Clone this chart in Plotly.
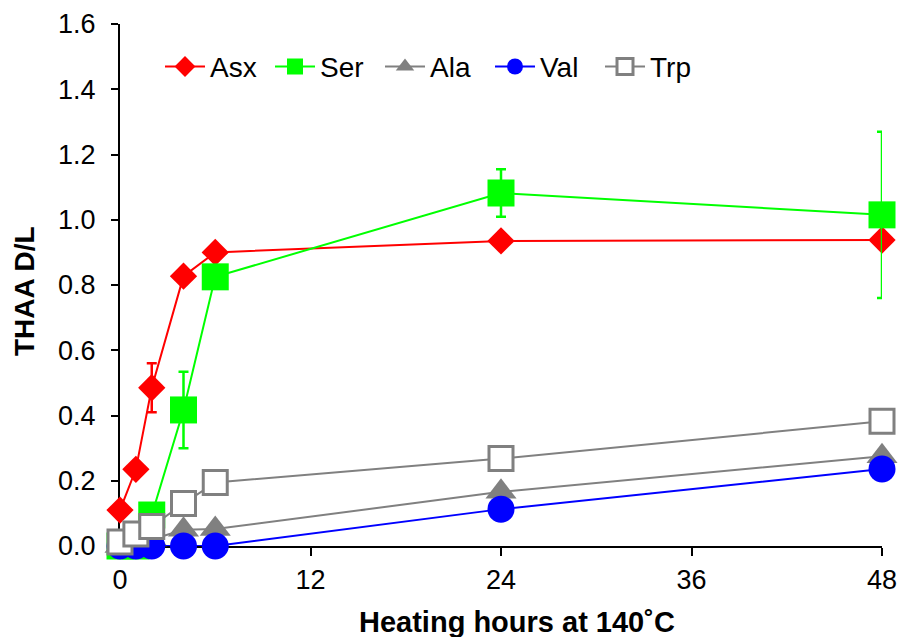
import plotly.graph_objects as go

hours = [0, 1, 2, 4, 6, 24, 48]

asx = [0.11, 0.235, 0.485, 0.827, 0.90, 0.935, 0.938]
asx_err = [0, 0, 0.075, 0, 0, 0, 0]

ser = [0.0, 0.0, 0.095, 0.417, 0.825, 1.082, 1.015]
ser_err = [0, 0, 0, 0.117, 0, 0.073, 0.255]

ala = [0.0, 0.0, 0.02, 0.05, 0.052, 0.166, 0.275]
val = [0.0, 0.0, 0.0, 0.0, 0.0, 0.113, 0.236]
trp = [0.012, 0.037, 0.06, 0.13, 0.195, 0.268, 0.382]

x_ticks = [0, 12, 24, 36, 48]
y_ticks = [0.0, 0.2, 0.4, 0.6, 0.8, 1.0, 1.2, 1.4, 1.6]

x_title = "Heating hours at 140˚C"
y_title = "THAA D/L"

RED = "#FF0000"
GREEN = "#00FF00"
GREY = "#808080"
BLUE = "#0000FF"

fig = go.Figure()

fig.add_trace(go.Scatter(
    x=hours, y=asx, name="Asx", mode="lines+markers",
    line=dict(color=RED, width=2),
    marker=dict(symbol="diamond", size=21, color=RED),
    error_y=dict(type="data", array=asx_err, color=RED, thickness=2.5, width=5, visible=True),
    cliponaxis=False,
))
fig.add_trace(go.Scatter(
    x=hours, y=ser, name="Ser", mode="lines+markers",
    line=dict(color=GREEN, width=2),
    marker=dict(symbol="square", size=27, color=GREEN),
    error_y=dict(type="data", array=ser_err, color=GREEN, thickness=2.5, width=5, visible=True),
    cliponaxis=False,
))
fig.add_trace(go.Scatter(
    x=hours, y=ala, name="Ala", mode="lines+markers",
    line=dict(color=GREY, width=2),
    marker=dict(symbol="triangle-up", size=27, color=GREY),
    cliponaxis=False,
))
fig.add_trace(go.Scatter(
    x=hours, y=val, name="Val", mode="lines+markers",
    line=dict(color=BLUE, width=2),
    marker=dict(symbol="circle", size=27, color=BLUE),
    cliponaxis=False,
))
fig.add_trace(go.Scatter(
    x=hours, y=trp, name="Trp", mode="lines+markers",
    line=dict(color=GREY, width=2),
    marker=dict(symbol="square", size=24, color="white", line=dict(color=GREY, width=3)),
    cliponaxis=False,
))

FONT = "Liberation Sans, Arial, sans-serif"

fig.update_layout(
    width=900, height=637,
    margin=dict(l=120, r=18, t=24, b=91),
    paper_bgcolor="white", plot_bgcolor="white",
    font=dict(family=FONT, size=27, color="black"),
    showlegend=True,
    legend=dict(
        orientation="h", x=0.0525, xanchor="left", y=0.918, yanchor="middle",
        font=dict(family=FONT, size=28, color="black"),
        bgcolor="rgba(0,0,0,0)", borderwidth=0,
        itemwidth=40,
        entrywidth=55, entrywidthmode="pixels",
    ),
    xaxis=dict(
        range=[0, 48], tickvals=x_ticks, ticktext=[str(v) for v in x_ticks],
        showgrid=False, zeroline=False,
        showline=True, linecolor="black", linewidth=2,
        ticks="outside", ticklen=8, tickwidth=2, tickcolor="black",
        tickfont=dict(family=FONT, size=27),
        ticklabelstandoff=1,
        layer="below traces",
        automargin=False,
    ),
    yaxis=dict(
        range=[0, 1.6], tickvals=y_ticks, ticktext=[f"{v:.1f}" for v in y_ticks],
        showgrid=False, zeroline=False,
        showline=True, linecolor="black", linewidth=2,
        ticks="outside", ticklen=7, tickwidth=2, tickcolor="black",
        tickfont=dict(family=FONT, size=27),
        ticklabelstandoff=10,
        layer="below traces",
        automargin=False,
    ),
    annotations=[
        dict(text=f"<b>{x_title}</b>", xref="paper", yref="paper",
             x=(517 - 120) / 762, y=-(622 - 546) / 522, xanchor="center", yanchor="middle",
             showarrow=False, font=dict(family=FONT, size=29, color="black")),
        dict(text=f"<b>{y_title}</b>", xref="paper", yref="paper", textangle=-90,
             x=-(120 - 24) / 762, y=(546 - 291) / 522, xanchor="center", yanchor="middle",
             showarrow=False, font=dict(family=FONT, size=28, color="black")),
    ],
)

fig.write_html(
    "out.html",
    config={"displayModeBar": False},
    post_script="document.body.style.margin='0';document.body.style.overflow='hidden';",
)
